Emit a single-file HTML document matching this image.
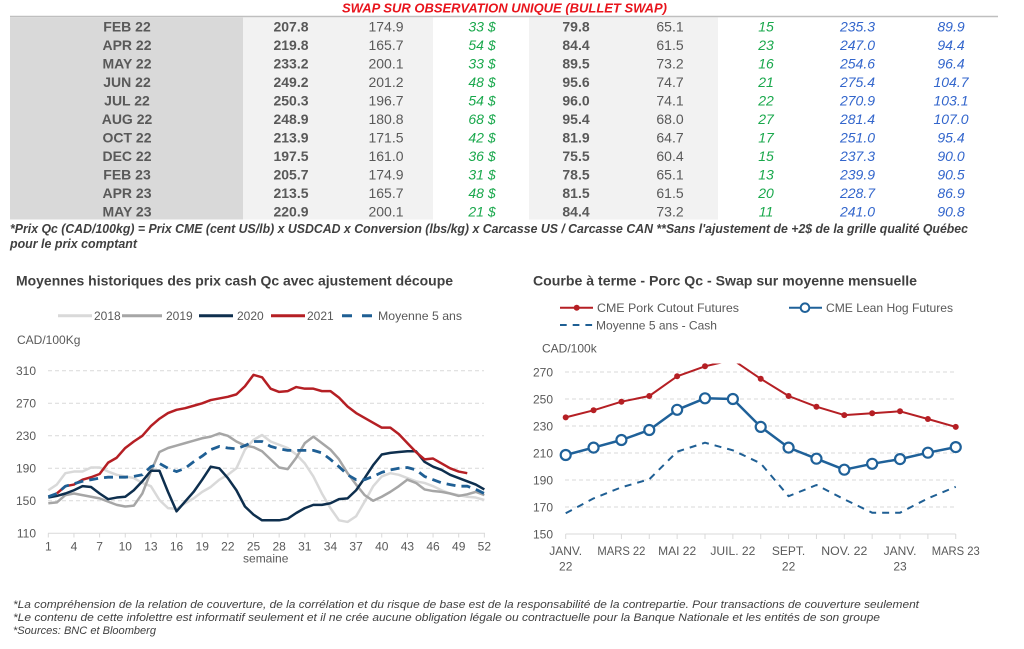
<!DOCTYPE html>
<html><head><meta charset="utf-8"><style>
html,body{margin:0;padding:0;background:#fff;}
svg{display:block;font-family:"Liberation Sans",sans-serif;}
.tb{font-size:14px;font-weight:bold;fill:#595959;text-anchor:middle;}
.tr{font-size:14px;fill:#595959;text-anchor:middle;}
.tg{font-size:14px;font-style:italic;fill:#19a84c;text-anchor:middle;}
.tbl{font-size:14px;font-style:italic;fill:#3366cc;text-anchor:middle;}
.ax{font-size:12px;fill:#595959;}
.axr{font-size:12px;fill:#595959;text-anchor:end;}
.axm{font-size:12px;fill:#595959;text-anchor:middle;}
.grid{stroke:#d9d9d9;stroke-width:1;stroke-dasharray:4,3;}
</style></head><body>
<svg width="1024" height="649" viewBox="0 0 1024 649" xmlns="http://www.w3.org/2000/svg">
<defs>
<clipPath id="cr"><rect x="540" y="363.5" width="440" height="200"/></clipPath>
</defs>
<!-- TABLE -->
<text x="342" y="12.5" textLength="325" lengthAdjust="spacingAndGlyphs" style="font-size:13px;font-weight:bold;font-style:italic;fill:#e8141c;">SWAP SUR OBSERVATION UNIQUE (BULLET SWAP)</text>
<line x1="10" y1="16.5" x2="998" y2="16.5" stroke="#bfbfbf" stroke-width="1.5"/>
<rect x="10" y="17.5" width="233" height="202" fill="#d9d9d9"/>
<rect x="243" y="17.5" width="190" height="202" fill="#f2f2f2"/>
<rect x="529" y="17.5" width="189" height="202" fill="#f2f2f2"/>

<g>
<text class="tb" x="127" y="31.7">FEB 22</text><text class="tb" x="291" y="31.7">207.8</text><text class="tr" x="386" y="31.7">174.9</text><text class="tg" x="482" y="31.7">33 $</text><text class="tb" x="576" y="31.7">79.8</text><text class="tr" x="670" y="31.7">65.1</text><text class="tg" x="766" y="31.7">15</text><text class="tbl" x="857.5" y="31.7">235.3</text><text class="tbl" x="951" y="31.7">89.9</text>
<text class="tb" x="127" y="50.2">APR 22</text><text class="tb" x="291" y="50.2">219.8</text><text class="tr" x="386" y="50.2">165.7</text><text class="tg" x="482" y="50.2">54 $</text><text class="tb" x="576" y="50.2">84.4</text><text class="tr" x="670" y="50.2">61.5</text><text class="tg" x="766" y="50.2">23</text><text class="tbl" x="857.5" y="50.2">247.0</text><text class="tbl" x="951" y="50.2">94.4</text>
<text class="tb" x="127" y="68.7">MAY 22</text><text class="tb" x="291" y="68.7">233.2</text><text class="tr" x="386" y="68.7">200.1</text><text class="tg" x="482" y="68.7">33 $</text><text class="tb" x="576" y="68.7">89.5</text><text class="tr" x="670" y="68.7">73.2</text><text class="tg" x="766" y="68.7">16</text><text class="tbl" x="857.5" y="68.7">254.6</text><text class="tbl" x="951" y="68.7">96.4</text>
<text class="tb" x="127" y="87.1">JUN 22</text><text class="tb" x="291" y="87.1">249.2</text><text class="tr" x="386" y="87.1">201.2</text><text class="tg" x="482" y="87.1">48 $</text><text class="tb" x="576" y="87.1">95.6</text><text class="tr" x="670" y="87.1">74.7</text><text class="tg" x="766" y="87.1">21</text><text class="tbl" x="857.5" y="87.1">275.4</text><text class="tbl" x="951" y="87.1">104.7</text>
<text class="tb" x="127" y="105.6">JUL 22</text><text class="tb" x="291" y="105.6">250.3</text><text class="tr" x="386" y="105.6">196.7</text><text class="tg" x="482" y="105.6">54 $</text><text class="tb" x="576" y="105.6">96.0</text><text class="tr" x="670" y="105.6">74.1</text><text class="tg" x="766" y="105.6">22</text><text class="tbl" x="857.5" y="105.6">270.9</text><text class="tbl" x="951" y="105.6">103.1</text>
<text class="tb" x="127" y="124.1">AUG 22</text><text class="tb" x="291" y="124.1">248.9</text><text class="tr" x="386" y="124.1">180.8</text><text class="tg" x="482" y="124.1">68 $</text><text class="tb" x="576" y="124.1">95.4</text><text class="tr" x="670" y="124.1">68.0</text><text class="tg" x="766" y="124.1">27</text><text class="tbl" x="857.5" y="124.1">281.4</text><text class="tbl" x="951" y="124.1">107.0</text>
<text class="tb" x="127" y="142.6">OCT 22</text><text class="tb" x="291" y="142.6">213.9</text><text class="tr" x="386" y="142.6">171.5</text><text class="tg" x="482" y="142.6">42 $</text><text class="tb" x="576" y="142.6">81.9</text><text class="tr" x="670" y="142.6">64.7</text><text class="tg" x="766" y="142.6">17</text><text class="tbl" x="857.5" y="142.6">251.0</text><text class="tbl" x="951" y="142.6">95.4</text>
<text class="tb" x="127" y="161.1">DEC 22</text><text class="tb" x="291" y="161.1">197.5</text><text class="tr" x="386" y="161.1">161.0</text><text class="tg" x="482" y="161.1">36 $</text><text class="tb" x="576" y="161.1">75.5</text><text class="tr" x="670" y="161.1">60.4</text><text class="tg" x="766" y="161.1">15</text><text class="tbl" x="857.5" y="161.1">237.3</text><text class="tbl" x="951" y="161.1">90.0</text>
<text class="tb" x="127" y="179.5">FEB 23</text><text class="tb" x="291" y="179.5">205.7</text><text class="tr" x="386" y="179.5">174.9</text><text class="tg" x="482" y="179.5">31 $</text><text class="tb" x="576" y="179.5">78.5</text><text class="tr" x="670" y="179.5">65.1</text><text class="tg" x="766" y="179.5">13</text><text class="tbl" x="857.5" y="179.5">239.9</text><text class="tbl" x="951" y="179.5">90.5</text>
<text class="tb" x="127" y="198">APR 23</text><text class="tb" x="291" y="198">213.5</text><text class="tr" x="386" y="198">165.7</text><text class="tg" x="482" y="198">48 $</text><text class="tb" x="576" y="198">81.5</text><text class="tr" x="670" y="198">61.5</text><text class="tg" x="766" y="198">20</text><text class="tbl" x="857.5" y="198">228.7</text><text class="tbl" x="951" y="198">86.9</text>
<text class="tb" x="127" y="216.5">MAY 23</text><text class="tb" x="291" y="216.5">220.9</text><text class="tr" x="386" y="216.5">200.1</text><text class="tg" x="482" y="216.5">21 $</text><text class="tb" x="576" y="216.5">84.4</text><text class="tr" x="670" y="216.5">73.2</text><text class="tg" x="766" y="216.5">11</text><text class="tbl" x="857.5" y="216.5">241.0</text><text class="tbl" x="951" y="216.5">90.8</text>
</g>

<text x="10" y="233" textLength="958" lengthAdjust="spacingAndGlyphs" style="font-size:12.5px;font-weight:bold;font-style:italic;fill:#404040;">*Prix Qc (CAD/100kg) = Prix CME (cent US/lb) x USDCAD x Conversion (lbs/kg) x Carcasse US / Carcasse CAN **Sans l'ajustement de +2$ de la grille qualité Québec</text>
<text x="10" y="248" textLength="127" lengthAdjust="spacingAndGlyphs" style="font-size:12.5px;font-weight:bold;font-style:italic;fill:#404040;">pour le prix comptant</text>

<!-- LEFT CHART -->
<text x="16" y="285.5" textLength="437" lengthAdjust="spacingAndGlyphs" style="font-size:14px;font-weight:bold;fill:#404040;">Moyennes historiques des prix cash Qc avec ajustement découpe</text>
<line x1="58" y1="315.7" x2="92" y2="315.7" stroke="#d9d9d9" stroke-width="3"/>
<text class="ax" x="94" y="320">2018</text>
<line x1="122" y1="315.7" x2="162" y2="315.7" stroke="#a6a6a6" stroke-width="3"/>
<text class="ax" x="166" y="320">2019</text>
<line x1="199" y1="315.7" x2="233" y2="315.7" stroke="#0e2f4e" stroke-width="3"/>
<text class="ax" x="237" y="320">2020</text>
<line x1="271" y1="315.7" x2="305" y2="315.7" stroke="#b51f24" stroke-width="3"/>
<text class="ax" x="307" y="320">2021</text>
<line x1="342" y1="315.7" x2="372" y2="315.7" stroke="#1f5f94" stroke-width="3" stroke-dasharray="10,10"/>
<text class="ax" x="378" y="320" textLength="84" lengthAdjust="spacingAndGlyphs">Moyenne 5 ans</text>
<text class="ax" x="17" y="344">CAD/100Kg</text>

<line class="grid" x1="48" y1="370.8" x2="484" y2="370.8"/>
<line class="grid" x1="48" y1="403.3" x2="484" y2="403.3"/>
<line class="grid" x1="48" y1="435.8" x2="484" y2="435.8"/>
<line class="grid" x1="48" y1="468.3" x2="484" y2="468.3"/>
<line class="grid" x1="48" y1="500.8" x2="484" y2="500.8"/>
<line x1="48" y1="533.3" x2="485" y2="533.3" stroke="#d9d9d9" stroke-width="1"/>
<g stroke="#d9d9d9" stroke-width="1">
<line x1="48.3" y1="533.3" x2="48.3" y2="537.5"/><line x1="73.95" y1="533.3" x2="73.95" y2="537.5"/><line x1="99.6" y1="533.3" x2="99.6" y2="537.5"/><line x1="125.25" y1="533.3" x2="125.25" y2="537.5"/><line x1="150.9" y1="533.3" x2="150.9" y2="537.5"/><line x1="176.55" y1="533.3" x2="176.55" y2="537.5"/><line x1="202.2" y1="533.3" x2="202.2" y2="537.5"/><line x1="227.85" y1="533.3" x2="227.85" y2="537.5"/><line x1="253.5" y1="533.3" x2="253.5" y2="537.5"/><line x1="279.15" y1="533.3" x2="279.15" y2="537.5"/><line x1="304.8" y1="533.3" x2="304.8" y2="537.5"/><line x1="330.45" y1="533.3" x2="330.45" y2="537.5"/><line x1="356.1" y1="533.3" x2="356.1" y2="537.5"/><line x1="381.75" y1="533.3" x2="381.75" y2="537.5"/><line x1="407.4" y1="533.3" x2="407.4" y2="537.5"/><line x1="433.05" y1="533.3" x2="433.05" y2="537.5"/><line x1="458.7" y1="533.3" x2="458.7" y2="537.5"/><line x1="484.35" y1="533.3" x2="484.35" y2="537.5"/>
</g>
<text class="axr" x="36" y="375">310</text>
<text class="axr" x="36" y="407.6">270</text>
<text class="axr" x="36" y="440">230</text>
<text class="axr" x="36" y="472.6">190</text>
<text class="axr" x="36" y="505">150</text>
<text class="axr" x="36" y="537.6">110</text>
<g class="axm">
<text class="axm" x="48.3" y="550.3">1</text><text class="axm" x="73.95" y="550.3">4</text><text class="axm" x="99.6" y="550.3">7</text><text class="axm" x="125.25" y="550.3">10</text><text class="axm" x="150.9" y="550.3">13</text><text class="axm" x="176.55" y="550.3">16</text><text class="axm" x="202.2" y="550.3">19</text><text class="axm" x="227.85" y="550.3">22</text><text class="axm" x="253.5" y="550.3">25</text><text class="axm" x="279.15" y="550.3">28</text><text class="axm" x="304.8" y="550.3">31</text><text class="axm" x="330.45" y="550.3">34</text><text class="axm" x="356.1" y="550.3">37</text><text class="axm" x="381.75" y="550.3">40</text><text class="axm" x="407.4" y="550.3">43</text><text class="axm" x="433.05" y="550.3">46</text><text class="axm" x="458.7" y="550.3">49</text><text class="axm" x="484.35" y="550.3">52</text>
</g>
<text class="axm" x="265.7" y="562.5">semaine</text>

<g transform="translate(39.75,622.675) scale(8.55,-0.8125)" fill="none" stroke-linejoin="round">
<polyline vector-effect="non-scaling-stroke" stroke="#d9d9d9" stroke-width="2.5" points="1,163 2,170 3,184 4,186 5,186 6,191 7,191 8,186 9,182 10,180 11,178 12,172 13,168 14,151 15,141 16,140 17,147 18,153 19,161 20,167 21,176 22,182 23,190 24,213 25,225 26,231 27,223 28,219 29,215 30,207 31,196 32,180 33,159 34,141 35,126 36,124 37,131 38,149 39,168 40,180 41,184 42,182 43,178 44,174 45,172 46,168 47,163 48,159 49,157 50,155 51,154 52,151"/>
<polyline vector-effect="non-scaling-stroke" stroke="#a6a6a6" stroke-width="2.5" points="1,147 2,148 3,157 4,159 5,157 6,155 7,153 8,149 9,145 10,143 11,144 12,159 13,186 14,210 15,215 16,218 17,221 18,224 19,227 20,229 21,233 22,230 23,223 24,218 25,216 26,211 27,201 28,191 29,189 30,203 31,221 32,229 33,221 34,213 35,201 36,184 37,170 38,157 39,150 40,155 41,161 42,168 43,176 44,172 45,164 46,162 47,161 48,159 49,156 50,158 51,161 52,157"/>
<polyline vector-effect="non-scaling-stroke" stroke="#0e2f4e" stroke-width="2.5" points="1,154 2,156 3,159 4,163 5,168 6,167 7,159 8,152 9,154 10,155 11,163 12,174 13,187 14,187 15,161 16,137 17,149 18,161 19,176 20,192 21,190 22,178 23,163 24,143 25,133 26,126 27,126 28,126 29,128 30,135 31,141 32,145 33,145 34,147 35,152 36,153 37,163 38,178 39,194 40,207 41,209 42,210 43,211 44,211 45,198 46,192 47,188 48,182 49,178 50,174 51,170 52,164"/>
<polyline vector-effect="non-scaling-stroke" stroke="#b51f24" stroke-width="2.5" points="2,159 3,168 4,170 5,176 6,179 7,183 8,197 9,203 10,215 11,223 12,230 13,242 14,251 15,258 16,262 17,264 18,267 19,270 20,274 21,276 22,278 23,281 24,291 25,305 26,302 27,288 28,284 29,285 30,290 31,288 32,288 33,285 34,285 35,277 36,266 37,258 38,252 39,246 40,240 41,240 42,232 43,221 44,210 45,201 46,202 47,196 48,190 49,186 50,184"/>
</g>
<polyline fill="none" stroke="#1f5f94" stroke-width="2.8" stroke-dasharray="9,6" stroke-linejoin="round" points="48.3,496.7 56.85,493.5 65.4,486.2 73.95,483.7 82.5,481.3 91.05,479.7 99.6,478.1 108.15,477.2 116.7,477.2 125.25,477.2 133.8,476.4 142.35,474.8 150.9,466.7 159.45,463.4 168,468.3 176.55,471.6 185.1,468.3 193.65,461.8 202.2,456.1 210.75,449.6 219.3,446.4 227.85,448 236.4,448.8 244.95,445.6 253.5,441.5 262.05,441.5 270.6,446.4 279.15,448.8 287.7,450.4 296.25,450.4 304.8,450.4 313.35,450.4 321.9,452.9 330.45,459.4 339,466.7 347.55,474.8 356.1,479.7 364.65,479.7 373.2,476.4 381.75,472.4 390.3,469.9 398.85,468.3 407.4,467.5 415.95,469.9 424.5,476.4 433.05,479.7 441.6,482.9 450.15,484.6 458.7,486.2 467.25,486.2 475.8,489.4 484.35,493.5"/>

<!-- RIGHT CHART -->
<text x="533" y="285.5" textLength="384" lengthAdjust="spacingAndGlyphs" style="font-size:14px;font-weight:bold;fill:#404040;">Courbe à terme - Porc Qc - Swap sur moyenne mensuelle</text>
<line x1="560" y1="307.7" x2="593" y2="307.7" stroke="#b51f24" stroke-width="2"/>
<circle cx="576.7" cy="307.7" r="3" fill="#b51f24"/>
<text class="ax" x="597" y="312" textLength="142" lengthAdjust="spacingAndGlyphs">CME Pork Cutout Futures</text>
<line x1="789" y1="307.7" x2="822" y2="307.7" stroke="#1f6199" stroke-width="2"/>
<circle cx="805" cy="307.7" r="4.3" fill="#fff" stroke="#1f6199" stroke-width="2"/>
<text class="ax" x="826" y="312" textLength="127" lengthAdjust="spacingAndGlyphs">CME Lean Hog Futures</text>
<line x1="560" y1="325" x2="593" y2="325" stroke="#1f5f94" stroke-width="2" stroke-dasharray="6.7,6"/>
<text class="ax" x="596" y="329.5" textLength="121" lengthAdjust="spacingAndGlyphs">Moyenne 5 ans - Cash</text>
<text class="ax" x="542" y="352.5">CAD/100k</text>

<line class="grid" x1="565" y1="372" x2="955" y2="372"/>
<line class="grid" x1="565" y1="399" x2="955" y2="399"/>
<line class="grid" x1="565" y1="426" x2="955" y2="426"/>
<line class="grid" x1="565" y1="453" x2="955" y2="453"/>
<line class="grid" x1="565" y1="480" x2="955" y2="480"/>
<line class="grid" x1="565" y1="507" x2="955" y2="507"/>
<line x1="565.7" y1="534" x2="955.7" y2="534" stroke="#d9d9d9" stroke-width="1"/>
<g stroke="#d9d9d9" stroke-width="1">
<line x1="565.7" y1="534" x2="565.7" y2="539"/><line x1="593.56" y1="534" x2="593.56" y2="539"/><line x1="621.42" y1="534" x2="621.42" y2="539"/><line x1="649.28" y1="534" x2="649.28" y2="539"/><line x1="677.14" y1="534" x2="677.14" y2="539"/><line x1="705" y1="534" x2="705" y2="539"/><line x1="732.86" y1="534" x2="732.86" y2="539"/><line x1="760.72" y1="534" x2="760.72" y2="539"/><line x1="788.58" y1="534" x2="788.58" y2="539"/><line x1="816.44" y1="534" x2="816.44" y2="539"/><line x1="844.3" y1="534" x2="844.3" y2="539"/><line x1="872.16" y1="534" x2="872.16" y2="539"/><line x1="900.02" y1="534" x2="900.02" y2="539"/><line x1="927.88" y1="534" x2="927.88" y2="539"/><line x1="955.74" y1="534" x2="955.74" y2="539"/>
</g>
<text class="axr" x="553" y="376.3">270</text>
<text class="axr" x="553" y="403.3">250</text>
<text class="axr" x="553" y="430.3">230</text>
<text class="axr" x="553" y="457.3">210</text>
<text class="axr" x="553" y="484.3">190</text>
<text class="axr" x="553" y="511.3">170</text>
<text class="axr" x="553" y="538.3">150</text>
<text class="axm" x="565.7" y="555">JANV.</text><text class="axm" x="565.7" y="570.5">22</text>
<text class="axm" x="621.42" y="555" textLength="48" lengthAdjust="spacingAndGlyphs">MARS 22</text>
<text class="axm" x="677.14" y="555" textLength="38" lengthAdjust="spacingAndGlyphs">MAI 22</text>
<text class="axm" x="732.86" y="555" textLength="45" lengthAdjust="spacingAndGlyphs">JUIL. 22</text>
<text class="axm" x="788.58" y="555">SEPT.</text><text class="axm" x="788.58" y="570.5">22</text>
<text class="axm" x="844.3" y="555" textLength="46" lengthAdjust="spacingAndGlyphs">NOV. 22</text>
<text class="axm" x="900.02" y="555">JANV.</text><text class="axm" x="900.02" y="570.5">23</text>
<text class="axm" x="955.74" y="555" textLength="48" lengthAdjust="spacingAndGlyphs">MARS 23</text>

<polyline fill="none" stroke="#1f5f94" stroke-width="2" stroke-dasharray="7,6" stroke-linejoin="round" points="565.7,513.3 593.56,498.4 621.42,487.3 649.28,479.3 677.14,451.7 705,442.7 732.86,450.3 760.72,463.4 788.58,496.2 816.44,485 844.3,499.3 872.16,512.7 900.02,512.7 927.88,498.4 955.74,486.8"/>

<g clip-path="url(#cr)">
<polyline fill="none" stroke="#b51f24" stroke-width="2" stroke-linejoin="round" points="565.7,417.4 593.56,410.3 621.42,401.7 649.28,396 677.14,376.3 705,366.3 732.86,359.9 760.72,378.8 788.58,396 816.44,406.7 844.3,415.1 872.16,413.3 900.02,411.3 927.88,419 955.74,426.9"/>
</g>
<g fill="#b51f24">
<circle cx="565.7" cy="417.4" r="3"/><circle cx="593.56" cy="410.3" r="3"/><circle cx="621.42" cy="401.7" r="3"/><circle cx="649.28" cy="396" r="3"/><circle cx="677.14" cy="376.3" r="3"/><circle cx="705" cy="366.3" r="3"/><circle cx="760.72" cy="378.8" r="3"/><circle cx="788.58" cy="396" r="3"/><circle cx="816.44" cy="406.7" r="3"/><circle cx="844.3" cy="415.1" r="3"/><circle cx="872.16" cy="413.3" r="3"/><circle cx="900.02" cy="411.3" r="3"/><circle cx="927.88" cy="419" r="3"/><circle cx="955.74" cy="426.9" r="3"/>
</g>
<polyline fill="none" stroke="#1f6199" stroke-width="2.5" stroke-linejoin="round" points="565.7,455 593.56,447.6 621.42,440 649.28,430 677.14,409.8 705,398.3 732.86,399 760.72,426.9 788.58,447.6 816.44,458.7 844.3,469.7 872.16,463.8 900.02,459.1 927.88,452.7 955.74,447.1"/>
<g fill="#fff" stroke="#1f6199" stroke-width="2.2">
<circle cx="565.7" cy="455" r="5"/><circle cx="593.56" cy="447.6" r="5"/><circle cx="621.42" cy="440" r="5"/><circle cx="649.28" cy="430" r="5"/><circle cx="677.14" cy="409.8" r="5"/><circle cx="705" cy="398.3" r="5"/><circle cx="732.86" cy="399" r="5"/><circle cx="760.72" cy="426.9" r="5"/><circle cx="788.58" cy="447.6" r="5"/><circle cx="816.44" cy="458.7" r="5"/><circle cx="844.3" cy="469.7" r="5"/><circle cx="872.16" cy="463.8" r="5"/><circle cx="900.02" cy="459.1" r="5"/><circle cx="927.88" cy="452.7" r="5"/><circle cx="955.74" cy="447.1" r="5"/>
</g>

<!-- FOOTER -->
<text x="13" y="608" textLength="906" lengthAdjust="spacingAndGlyphs" style="font-size:11px;font-style:italic;fill:#404040;">*La compréhension de la relation de couverture, de la corrélation et du risque de base est de la responsabilité de la contrepartie. Pour transactions de couverture seulement</text>
<text x="13" y="621" textLength="867" lengthAdjust="spacingAndGlyphs" style="font-size:11px;font-style:italic;fill:#404040;">*Le contenu de cette infolettre est informatif seulement et il ne crée aucune obligation légale ou contractuelle pour la Banque Nationale et les entités de son groupe</text>
<text x="13" y="634" textLength="143" lengthAdjust="spacingAndGlyphs" style="font-size:11px;font-style:italic;fill:#404040;">*Sources: BNC et Bloomberg</text>
</svg>
</body></html>
